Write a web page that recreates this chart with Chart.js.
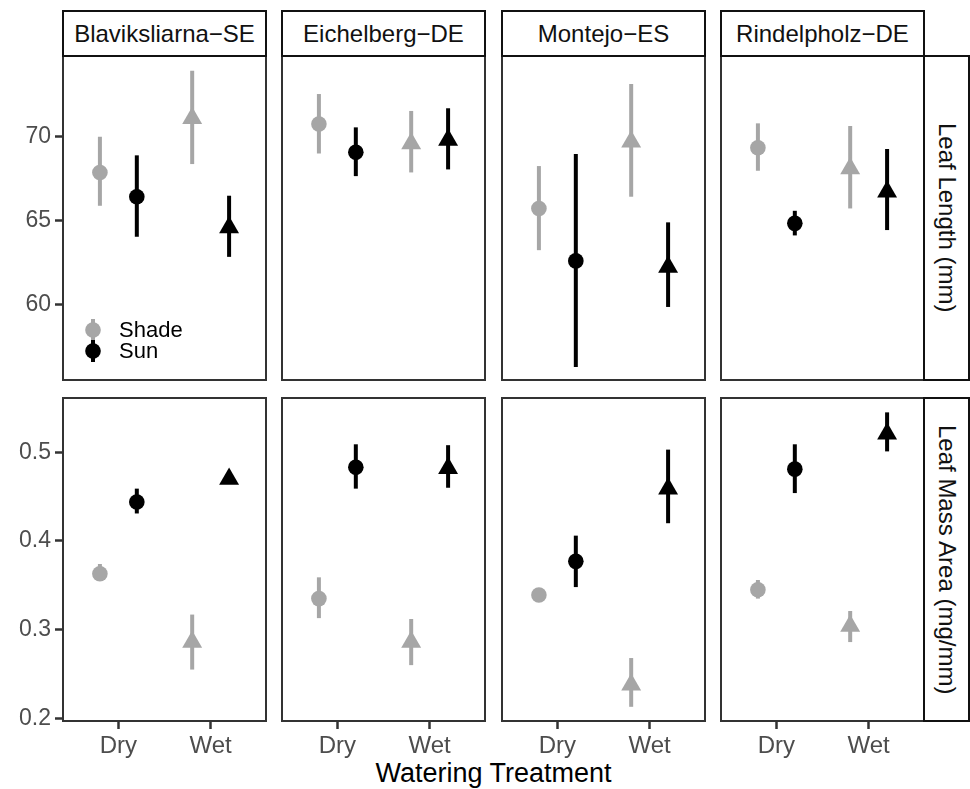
<!DOCTYPE html>
<html>
<head>
<meta charset="utf-8">
<style>
    body { margin: 0; background: #fff; }
    #fig {
        position: relative;
        width: 970px;
        height: 789px;
        overflow: hidden;
        font-family: "Liberation Sans", Arial, sans-serif;
    }
    .cell { position: absolute; }
    .strip {
        position: absolute;
        box-sizing: border-box;
        border: 2px solid #111;
        background: #fff;
        color: #111;
        font-size: 24px;
        display: flex;
        align-items: center;
        justify-content: center;
    }
    .strip.side span { writing-mode: vertical-rl; }
    #xtitle {
        position: absolute;
        left: 63px;
        width: 861px;
        top: 758px;
        text-align: center;
        font-size: 27px;
        color: #000;
    }
</style>
<script src="https://cdn.jsdelivr.net/npm/chart.js"></script>
</head>
<body>
<div id="fig">
    <div id="xtitle">Watering Treatment</div>
</div>
<script>
// facets and groups
var sites = ['Blaviksliarna\u2212SE', 'Eichelberg\u2212DE', 'Montejo\u2212ES', 'Rindelpholz\u2212DE'];
var treatments = ['Dry', 'Wet'];
var lightGroups = ['Shade', 'Sun'];

// leaf length (mm), one [Dry, Wet] pair per site
var lengthShadeMean = [[67.87, 71.10], [70.76, 69.60], [65.72, 69.70], [69.34, 68.11]];
var lengthShadeLow  = [[65.88, 68.37], [69.00, 67.87], [63.23, 66.42], [67.97, 65.72]];
var lengthShadeHigh = [[70.00, 73.94], [72.55, 71.54], [68.25, 73.15], [70.80, 70.64]];
var lengthSunMean   = [[66.42, 64.59], [69.07, 69.80], [62.59, 62.23], [64.83, 66.71]];
var lengthSunLow    = [[64.03, 62.83], [67.65, 68.05], [56.26, 59.84], [64.11, 64.43]];
var lengthSunHigh   = [[68.89, 66.48], [70.56, 71.70], [68.97, 64.89], [65.58, 69.27]];
var lengthTicks = [60, 65, 70];

// leaf mass area (mg/mm)
var lmaShadeMean = [[0.363, 0.286], [0.335, 0.286], [0.339, 0.238], [0.345, 0.304]];
var lmaShadeLow  = [[0.356, 0.255], [0.313, 0.260], [0.334, 0.213], [0.335, 0.286]];
var lmaShadeHigh = [[0.374, 0.317], [0.359, 0.312], [0.344, 0.268], [0.356, 0.321]];
var lmaSunMean   = [[0.444, 0.470], [0.483, 0.482], [0.377, 0.459], [0.481, 0.521]];
var lmaSunLow    = [[0.431, 0.466], [0.459, 0.460], [0.348, 0.420], [0.454, 0.501]];
var lmaSunHigh   = [[0.459, 0.474], [0.509, 0.508], [0.406, 0.503], [0.509, 0.545]];
var lmaTicks = [0.2, 0.3, 0.4, 0.5];

var groupColors = ['#a6a6a6', '#000000'];
var shapes = ['circle', 'triangle'];
var shapeSizes = [7.8, 11.5];
var dodge = 0.2;
var fontFamily = '"Liberation Sans", Arial, sans-serif';

var rows = [
    { label: 'Leaf Length (mm)', mean: [lengthShadeMean, lengthSunMean], low: [lengthShadeLow, lengthSunLow],
      high: [lengthShadeHigh, lengthSunHigh], ticks: lengthTicks, min: 55.48, max: 74.82, digits: 0, top: 56, h: 324 },
    { label: 'Leaf Mass Area (mg/mm)', mean: [lmaShadeMean, lmaSunMean], low: [lmaShadeLow, lmaSunLow],
      high: [lmaShadeHigh, lmaSunHigh], ticks: lmaTicks, min: 0.197, max: 0.5612, digits: 1, top: 398, h: 323 }
];
var colLefts = [63, 282, 502, 721];
var panelW = 203;
var yAxisW = 63;
var xAxisH = 50;
var pad = 2;

// error bars drawn under the points, panel frame on top
var errorBars = {
    id: 'errorBars',
    beforeDatasetsDraw: function(chart) {
        var ctx = chart.ctx;
        var xs = chart.scales.x, ys = chart.scales.y;
        ctx.save();
        chart.data.datasets.forEach(function(ds) {
            ds.data.forEach(function(p, i) {
                var px = xs.getPixelForValue(p.x);
                ctx.beginPath();
                ctx.strokeStyle = ds.backgroundColor;
                ctx.lineWidth = 4;
                ctx.lineCap = 'butt';
                ctx.moveTo(px, ys.getPixelForValue(ds.errLow[i]));
                ctx.lineTo(px, ys.getPixelForValue(ds.errHigh[i]));
                ctx.stroke();
            });
        });
        ctx.restore();
    },
    afterDraw: function(chart) {
        var a = chart.chartArea, ctx = chart.ctx;
        ctx.save();
        ctx.strokeStyle = '#333';
        ctx.lineWidth = 2;
        ctx.strokeRect(a.left, a.top, a.right - a.left, a.bottom - a.top);
        ctx.restore();
    }
};

// legend inside the first panel
var innerLegend = {
    id: 'innerLegend',
    afterDraw: function(chart, args, opts) {
        if (!opts.show) return;
        var ctx = chart.ctx, a = chart.chartArea;
        ctx.save();
        ctx.font = '22px ' + fontFamily;
        ctx.textBaseline = 'middle';
        lightGroups.forEach(function(g, i) {
            var cx = a.left + 30, cy = a.bottom - 50 + i * 21;
            ctx.fillStyle = groupColors[i];
            ctx.fillRect(cx - 2, cy - 11, 4, 22);
            ctx.beginPath();
            ctx.arc(cx, cy, 7.8, 0, Math.PI * 2);
            ctx.fill();
            ctx.fillStyle = '#000';
            ctx.fillText(g, a.left + 56, cy + 1);
        });
        ctx.restore();
    }
};

function noPad(s) {
    s.paddingTop = 0;
    s.paddingBottom = 0;
    s.paddingLeft = 0;
    s.paddingRight = 0;
}

var fig = document.getElementById('fig');

rows.forEach(function(row, r) {
    sites.forEach(function(site, c) {
        var hasY = c === 0, hasX = r === 1;
        var left = colLefts[c] - pad - (hasY ? yAxisW : 0);
        var width = panelW + 2 * pad + (hasY ? yAxisW : 0);
        var height = row.h + 2 * pad + (hasX ? xAxisH : 0);
        var cell = document.createElement('div');
        cell.className = 'cell';
        cell.style.left = left + 'px';
        cell.style.top = (row.top - pad) + 'px';
        cell.style.width = width + 'px';
        cell.style.height = height + 'px';
        var canvas = document.createElement('canvas');
        cell.appendChild(canvas);
        fig.appendChild(cell);

        var datasets = lightGroups.map(function(g, k) {
            return {
                label: g,
                data: treatments.map(function(t, j) {
                    return { x: j + 1 + (k === 0 ? -dodge : dodge), y: row.mean[k][c][j] };
                }),
                errLow: row.low[k][c],
                errHigh: row.high[k][c],
                backgroundColor: groupColors[k],
                borderColor: groupColors[k],
                borderWidth: 0,
                pointStyle: shapes,
                pointRadius: shapeSizes
            };
        });

        new Chart(canvas, {
            type: 'scatter',
            data: { datasets: datasets },
            plugins: [errorBars, innerLegend],
            options: {
                responsive: true,
                maintainAspectRatio: false,
                animation: false,
                events: [],
                layout: { padding: pad, autoPadding: false },
                plugins: {
                    legend: { display: false },
                    tooltip: { enabled: false },
                    innerLegend: { show: r === 0 && c === 0 }
                },
                scales: {
                    x: {
                        type: 'linear',
                        min: 0.4,
                        max: 2.6,
                        display: hasX,
                        afterBuildTicks: function(s) { s.ticks = treatments.map(function(t, j) { return { value: j + 1 }; }); },
                        afterFit: function(s) { s.height = hasX ? xAxisH : 0; noPad(s); },
                        grid: { drawOnChartArea: false, drawTicks: true, tickLength: 8, tickWidth: 2.5, tickColor: '#333' },
                        border: { display: false },
                        ticks: {
                            autoSkip: false,
                            maxRotation: 0,
                            padding: 3,
                            color: '#4d4d4d',
                            font: { family: fontFamily, size: 24 },
                            callback: function(v) { return treatments[v - 1]; }
                        }
                    },
                    y: {
                        min: row.min,
                        max: row.max,
                        display: hasY,
                        afterBuildTicks: function(s) { s.ticks = row.ticks.map(function(v) { return { value: v }; }); },
                        afterFit: function(s) { s.width = hasY ? yAxisW : 0; noPad(s); },
                        grid: { drawOnChartArea: false, drawTicks: true, tickLength: 8, tickWidth: 2.5, tickColor: '#333' },
                        border: { display: false },
                        ticks: {
                            padding: 4,
                            color: '#4d4d4d',
                            font: { family: fontFamily, size: 23 },
                            callback: function(v) { return v.toFixed(row.digits); }
                        }
                    }
                }
            }
        });

        if (r === 0) {
            var strip = document.createElement('div');
            strip.className = 'strip';
            strip.style.left = (colLefts[c] - 1) + 'px';
            strip.style.top = '10px';
            strip.style.width = (panelW + 2) + 'px';
            strip.style.height = '47px';
            strip.textContent = site;
            fig.appendChild(strip);
        }
    });

    var side = document.createElement('div');
    side.className = 'strip side';
    side.style.left = '923px';
    side.style.top = (row.top - 1) + 'px';
    side.style.width = '47px';
    side.style.height = (row.h + 2) + 'px';
    var span = document.createElement('span');
    span.textContent = row.label;
    side.appendChild(span);
    fig.appendChild(side);
});
</script>
</body>
</html>
